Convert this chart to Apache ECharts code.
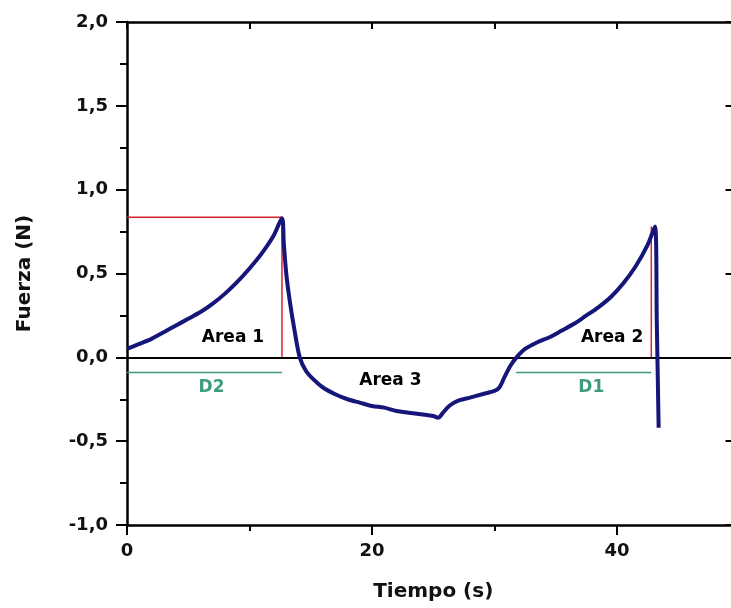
<!DOCTYPE html>
<html>
<head>
<meta charset="utf-8">
<script src="https://cdn.jsdelivr.net/npm/echarts@6/dist/echarts.min.js"></script>
<style>
html,body{margin:0;padding:0;background:#fff;}
#chart{width:731px;height:608px;}
</style>
</head>
<body>
<div id="chart"></div>
<script>
// Force curve (time s, force N)
const forceCurve = [
  [0,0.05],[1,0.08],[2,0.11],[3,0.15],[4,0.19],[5,0.23],[6,0.27],[7,0.32],
  [8,0.38],[9,0.45],[10,0.53],[11,0.62],[12,0.73],[12.65,0.83],
  [12.8,0.68],[13.0,0.50],[13.3,0.33],[13.7,0.15],[14.1,0.0],[14.6,-0.08],
  [15.2,-0.13],[16,-0.18],[17,-0.22],[18,-0.25],[19,-0.27],[20,-0.29],
  [21,-0.30],[22,-0.32],[23,-0.33],[24,-0.34],[25,-0.35],[25.4,-0.36],
  [25.8,-0.33],[26.3,-0.29],[27,-0.26],[28,-0.24],[29,-0.22],[30,-0.20],
  [30.4,-0.18],[30.8,-0.12],[31.3,-0.05],[31.8,0.0],[32.5,0.05],[33.5,0.09],
  [34.5,0.12],[35.5,0.16],[36.5,0.20],[37.5,0.25],[38.5,0.30],[39.5,0.36],
  [40.5,0.44],[41.5,0.54],[42.5,0.67],[43.1,0.78],[43.25,0.2],[43.4,-0.42]
];
// Red boundary lines of Area 1 and Area 2
const area1Box = [[0,0.835],[12.65,0.835],[12.65,0]];
const area2Edge = [[42.8,0],[42.8,0.78]];
// Green distance lines
const d2Line = [[0,-0.09],[12.65,-0.09]];
const d1Line = [[31.75,-0.09],[42.8,-0.09]];
// Annotation texts
const areaLabels = [[8.65,0.12,'Area 1'],[39.6,0.12,'Area 2'],[21.5,-0.14,'Area 3']];
const dLabels = [[6.9,-0.18,'D2'],[37.9,-0.18,'D1']];
const zeroLine = [0];
// Axis ticks
const xMajorTicks = [0,20,40];
const xMinorTicks = [10,30,50];
const xRange = [0,50];
const yRange = [-1,2];
const yTitle = 'Fuerza (N)';
const xTitle = 'Tiempo (s)';

const FONT = 'DejaVu Sans';
const chart = echarts.init(document.getElementById('chart'));
const fmtY = v => v.toFixed(1).replace('.', ',');
const black = {color:'#000', width:2};
const xBase = {type:'value', min:xRange[0], max:xRange[1], interval:10, splitLine:{show:false}};
chart.setOption({
  animation:false,
  backgroundColor:'#fff',
  grid:{left:127, top:22, width:612.5, height:503, containLabel:false, outerBoundsMode:'none'},
  xAxis:[
    Object.assign({}, xBase, {
      position:'bottom',
      axisLine:{onZero:false, lineStyle:{color:'#000', width:2.5}},
      axisTick:{inside:false, length:10, lineStyle:black, customValues:xMajorTicks},
      axisLabel:{margin:17, color:'#111', fontFamily:FONT, fontWeight:'bold', fontSize:18,
        customValues:xMajorTicks},
      name:xTitle, nameLocation:'middle', nameGap:57,
      nameTextStyle:{color:'#111', fontFamily:FONT, fontWeight:'bold', fontSize:20}
    }),
    Object.assign({}, xBase, {
      position:'bottom',
      axisLine:{show:false, onZero:false},
      axisTick:{inside:false, length:6, lineStyle:black, customValues:xMinorTicks},
      axisLabel:{show:false}
    }),
    Object.assign({}, xBase, {
      position:'top',
      axisLine:{onZero:false, lineStyle:{color:'#000', width:2.5}},
      axisTick:{inside:true, length:7, lineStyle:black},
      axisLabel:{show:false}
    })
  ],
  yAxis:[
    {
      type:'value', min:yRange[0], max:yRange[1], interval:0.5, position:'left',
      splitLine:{show:false},
      axisLine:{onZero:false, lineStyle:{color:'#000', width:2.5}},
      axisTick:{inside:false, length:11, lineStyle:black},
      minorTick:{show:true, splitNumber:2, length:7, lineStyle:black},
      axisLabel:{margin:19, color:'#111', fontFamily:FONT, fontWeight:'bold', fontSize:18, formatter:fmtY},
      name:yTitle, nameLocation:'middle', nameGap:92, nameRotate:90,
      nameTextStyle:{color:'#111', fontFamily:FONT, fontWeight:'bold', fontSize:20}
    },
    {
      type:'value', min:yRange[0], max:yRange[1], interval:0.5, position:'right',
      splitLine:{show:false},
      axisLine:{show:false, onZero:false},
      axisTick:{inside:true, length:14, lineStyle:black},
      axisLabel:{show:false}
    }
  ],
  series:[
    {
      type:'line', data:[], symbol:'none', silent:true,
      markLine:{symbol:'none', silent:true, label:{show:false},
        lineStyle:{color:'#000', width:2, type:'solid'},
        data: zeroLine.map(v=>({yAxis:v}))}
    },
    {type:'line', data:area1Box, symbol:'none', lineStyle:{color:'#d3242c', width:1.5}, z:3},
    {type:'line', data:area2Edge, symbol:'none', lineStyle:{color:'#e0202a', width:1.5}, z:3},
    {type:'line', data:d2Line, symbol:'none', lineStyle:{color:'#3f9b7e', width:1.5}, z:3},
    {type:'line', data:d1Line, symbol:'none', lineStyle:{color:'#3f9b7e', width:1.5}, z:3},
    {type:'line', data:forceCurve, symbol:'none', smooth:0.3,
      lineStyle:{color:'#15157a', width:4}, z:5},
    {type:'scatter', data:areaLabels, symbolSize:0, z:6, itemStyle:{opacity:1},
      label:{show:true, position:'inside', formatter:p=>p.data[2],
        color:'#000', fontFamily:FONT, fontWeight:'bold', fontSize:17}},
    {type:'scatter', data:dLabels, symbolSize:0, z:6, itemStyle:{opacity:1},
      label:{show:true, position:'inside', formatter:p=>p.data[2],
        color:'#3f9b7e', fontFamily:FONT, fontWeight:'bold', fontSize:17}}
  ]
});
</script>
</body>
</html>
